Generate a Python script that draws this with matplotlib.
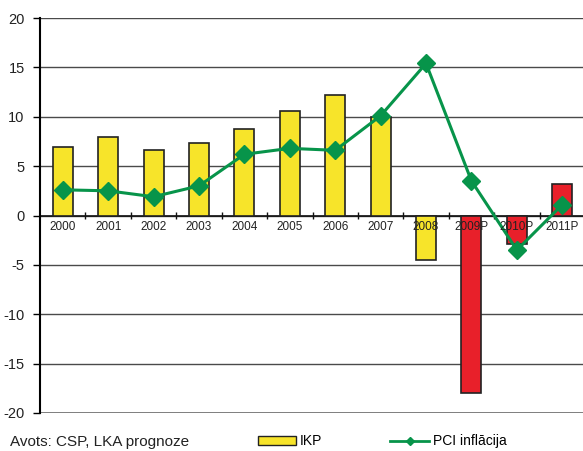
import numpy as np
import matplotlib.pyplot as plt
from matplotlib.patches import Patch
from matplotlib.lines import Line2D

plt.rcParams['font.family'] = ['Liberation Sans', 'DejaVu Sans']
plt.rcParams['axes.unicode_minus'] = False

# dati
gadi = ['2000', '2001', '2002', '2003', '2004', '2005', '2006', '2007',
        '2008', '2009P', '2010P', '2011P']
ikp = [6.9, 8.0, 6.6, 7.3, 8.8, 10.6, 12.2, 10.0, -4.5, -18.0, -2.9, 3.2]
pci = [2.6, 2.5, 1.9, 3.0, 6.2, 6.8, 6.6, 10.1, 15.4, 3.5, -3.5, 1.1]
prognoze = [False] * 9 + [True] * 3

dzeltens = '#f7e42a'
sarkans = '#e8202a'
zals = '#07944a'

fig = plt.figure(figsize=(5.83, 4.51), dpi=100)
ax = fig.add_axes([40 / 583, 38 / 451, 545 / 583, 395 / 451])

x = np.arange(len(gadi))
krasas = [sarkans if p else dzeltens for p in prognoze]
ax.bar(x, ikp, width=0.44, color=krasas, edgecolor='#222222', linewidth=1.2, zorder=3)
ax.plot(x, pci, color=zals, lw=2.2, marker='D', markersize=9.5, zorder=4)

ax.set_xlim(-0.5, len(gadi) - 0.5)
ax.set_ylim(-20, 20)
ax.set_yticks(np.arange(-20, 21, 5))
ax.yaxis.grid(True, color='#4a4a4a', lw=1)
ax.axhline(0, color='#111111', lw=1.2, zorder=2)
ax.axhline(-20, color='#777777', lw=2, zorder=2)
ax.set_axisbelow(True)
ax.set_xticks([])

for s in ['top', 'right', 'bottom']:
    ax.spines[s].set_visible(False)
ax.spines['left'].set_linewidth(1.5)
ax.tick_params(axis='y', length=5, width=1, labelsize=10.5, pad=6, labelcolor='#222222')

# kategoriju ieskaites un nosaukumi pie nulles līnijas
ax.vlines(x[:-1] + 0.5, -0.35, 0.35, color='#111111', lw=1, zorder=2)
for xi, g in zip(x, gadi):
    ax.text(xi, -0.6, g, ha='center', va='top', fontsize=8.5, color='#222222', zorder=5)

fig.text(10 / 583, 0.004, 'Avots: CSP, LKA prognoze', fontsize=11, color='#222222', va='bottom')

rokturi = [Patch(facecolor=dzeltens, edgecolor='#222222'),
           Line2D([0], [0], color=zals, lw=2, marker='D', markersize=4)]
fig.legend(rokturi, ['IKP', 'PCI inflācija'], loc='lower left',
           bbox_to_anchor=(245 / 583, -0.022), ncol=2, frameon=False,
           fontsize=10, handlelength=2.8, handleheight=0.6, columnspacing=4.9,
           handletextpad=0.25)

fig.savefig('out.png', dpi=100)
